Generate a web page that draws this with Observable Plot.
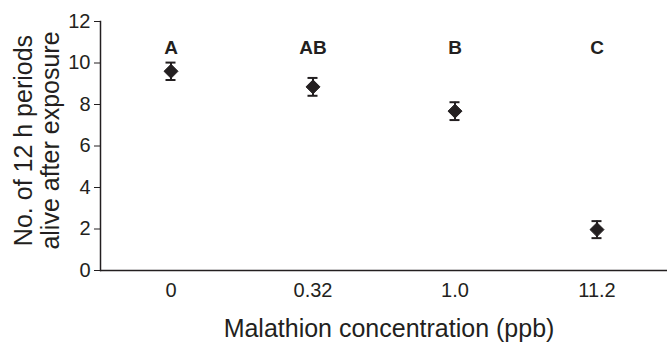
<!DOCTYPE html>
<html>
<head>
<meta charset="utf-8">
<script src="https://cdn.jsdelivr.net/npm/d3@7"></script>
<script src="https://cdn.jsdelivr.net/npm/@observablehq/plot@0.6"></script>
<style>
  html, body { margin: 0; padding: 0; background: #fff; }
  #chart svg { display: block; }
</style>
</head>
<body>
<div id="chart"></div>
<script>
const concentrations = ["0", "0.32", "1.0", "11.2"];
const means = [9.6, 8.85, 7.68, 1.97];
const errors = [0.42, 0.43, 0.43, 0.41];
const groupLetters = ["A", "AB", "B", "C"];
const letterLevel = 10.75;
const yTicks = [0, 2, 4, 6, 8, 10, 12];
const yTitle = "No. of 12 h periods\nalive after exposure";
const xTitle = "Malathion concentration (ppb)";

const rows = concentrations.map((c, i) => ({
  c, mean: means[i], lo: means[i] - errors[i], hi: means[i] + errors[i], letter: groupLetters[i]
}));

const ink = "#231f20";

const chart = Plot.plot({
  width: 667,
  height: 342,
  marginLeft: 100,
  marginRight: 0,
  marginTop: 21,
  marginBottom: 72,
  style: { fontFamily: "'Liberation Sans', Arial, sans-serif", color: ink, background: "#fff" },
  x: { type: "band", domain: concentrations, paddingInner: 0.5, paddingOuter: 0.24 },
  y: { domain: [0, 12] },
  marks: [
    Plot.axisX({ ticks: concentrations, tickSize: 0, tickPadding: 12, fontSize: 20, label: null, stroke: ink, fill: ink }),
    Plot.axisY({ ticks: yTicks, tickSize: 6, tickPadding: 4, fontSize: 20, label: null, stroke: ink, fill: ink }),
    Plot.frame({ anchor: "left", stroke: ink, strokeWidth: 1.5 }),
    Plot.ruleY([0], { stroke: ink, strokeWidth: 1.5 }),
    Plot.ruleX(rows, { x: "c", y1: "lo", y2: "hi", stroke: ink, strokeWidth: 2 }),
    Plot.tickY(rows, { x: "c", y: "lo", stroke: ink, strokeWidth: 2, insetLeft: 30.5, insetRight: 30.5 }),
    Plot.tickY(rows, { x: "c", y: "hi", stroke: ink, strokeWidth: 2, insetLeft: 30.5, insetRight: 30.5 }),
    Plot.dot(rows, { x: "c", y: "mean", symbol: "diamond2", r: 6.3, fill: ink, stroke: ink, strokeWidth: 1 }),
    Plot.text(rows, { x: "c", y: () => letterLevel, text: "letter", fontWeight: "bold", fontSize: 19, fill: ink }),
    Plot.text([yTitle], { frameAnchor: "left", textAnchor: "middle", lineAnchor: "middle", text: d => d, rotate: -90, dx: -64, dy: -5.5, fontSize: 25, lineHeight: 1.08, fill: ink }),
    Plot.text([xTitle], { frameAnchor: "bottom", textAnchor: "middle", lineAnchor: "middle", text: d => d, dx: 5, dy: 58, fontSize: 25, fill: ink })
  ]
});

document.getElementById("chart").appendChild(chart);
</script>
</body>
</html>
